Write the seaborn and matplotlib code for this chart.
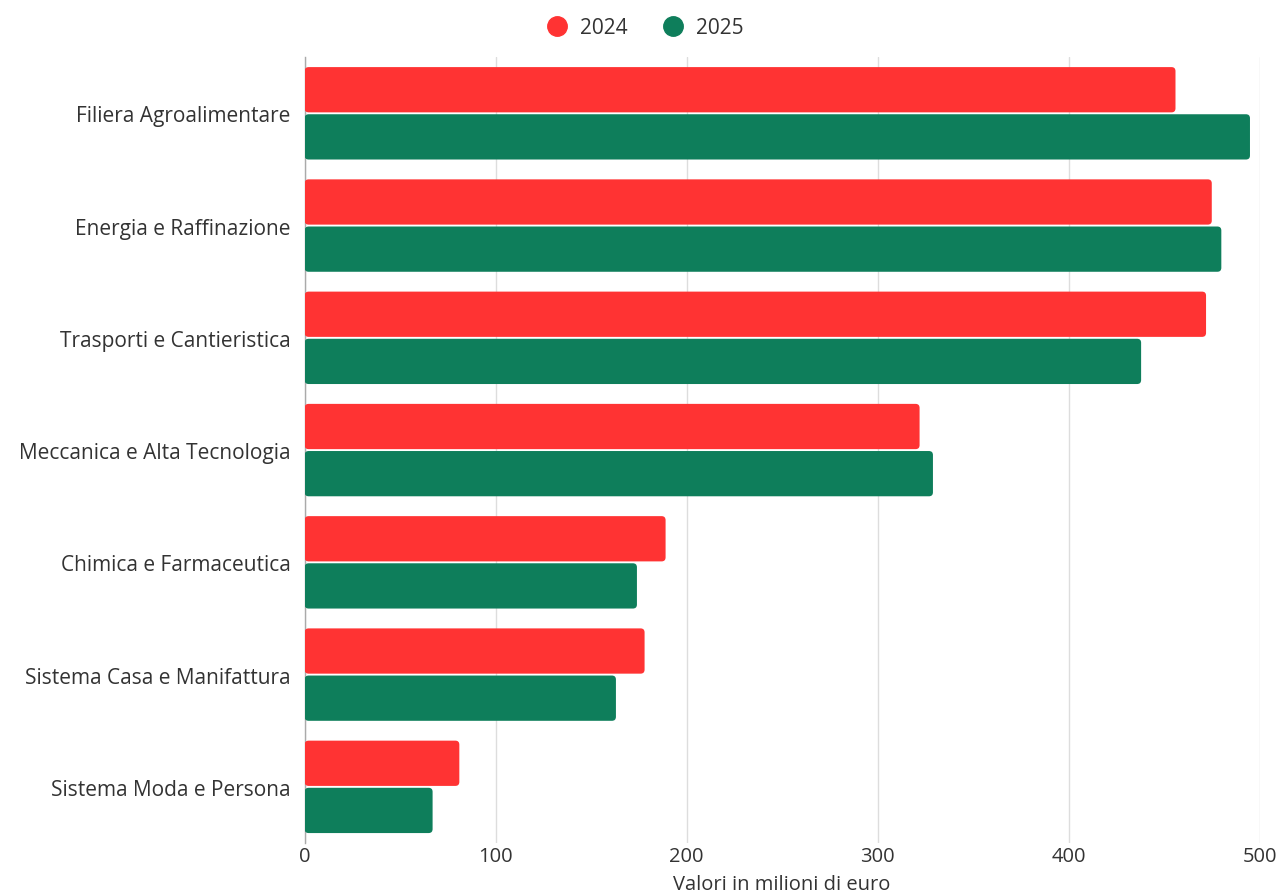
import matplotlib
matplotlib.use("Agg")
import matplotlib.pyplot as plt
from matplotlib.patches import FancyBboxPatch
from matplotlib.lines import Line2D
import seaborn as sns
import pandas as pd

categories = ["Filiera Agroalimentare", "Energia e Raffinazione", "Trasporti e Cantieristica",
              "Meccanica e Alta Tecnologia", "Chimica e Farmaceutica",
              "Sistema Casa e Manifattura", "Sistema Moda e Persona"]
values_2024 = [456, 475, 472, 322, 189, 178, 81]
values_2025 = [495, 480, 438, 329, 174, 163, 67]
series = ["2024", "2025"]
colors = ["#ff3333", "#0e7e5b"]
xticks = [0, 100, 200, 300, 400, 500]

df = pd.DataFrame({
    "cat": categories * 2,
    "val": values_2024 + values_2025,
    "year": [series[0]] * len(categories) + [series[1]] * len(categories),
})

sns.set_theme(style="white")
plt.rcParams["font.family"] = ["Open Sans", "DejaVu Sans"]

fig = plt.figure(figsize=(12.8, 8.95), dpi=100)
ax_l, ax_b, ax_w, ax_h = 0.238, 0.057, 0.746, 0.878
ax = fig.add_axes([ax_l, ax_b, ax_w, ax_h])
sns.barplot(data=df, y="cat", x="val", hue="year", palette=colors, orient="h",
            width=0.84, gap=0.04, ax=ax, legend=False, saturation=1)

# round bar corners
xr_per_px = 500 / (ax_w * 1280)
yr_per_px = 7 / (ax_h * 895)
rad = 4 * xr_per_px
for p in list(ax.patches):
    x0, y0 = p.get_x(), p.get_y()
    w, h = p.get_width(), p.get_height()
    fb = FancyBboxPatch((x0, y0), w, h,
                        boxstyle=f"round,pad=0,rounding_size={rad}",
                        mutation_aspect=yr_per_px / xr_per_px,
                        facecolor=p.get_facecolor(), edgecolor="none", zorder=3)
    p.remove()
    ax.add_patch(fb)

ax.set_xlim(0, 500)
ax.set_ylim(6.5, -0.5)
ax.set_xticks(xticks)
ax.set_xticklabels([str(t) for t in xticks], fontsize=14.5, color="#333333")
ax.tick_params(axis="y", labelsize=15, colors="#333333", length=0, pad=10)
ax.tick_params(axis="x", length=0, pad=2)
ax.grid(axis="x", color="#dddddd", linewidth=1, zorder=0)
ax.set_axisbelow(True)
for s in ["top", "right", "bottom"]:
    ax.spines[s].set_visible(False)
ax.spines["left"].set_color("#aaaaaa")
ax.spines["left"].set_linewidth(1)
ax.set_ylabel("")
ax.set_xlabel("Valori in milioni di euro", fontsize=14.5, color="#333333", labelpad=6)

handles = [Line2D([0], [0], marker="o", linestyle="none", markersize=14,
                  markerfacecolor=c, markeredgecolor=c) for c in colors]
fig.legend(handles, series, loc="center", bbox_to_anchor=(0.5, 1 - 29 / 895), ncol=2,
           frameon=False, fontsize=15, handletextpad=0.1, columnspacing=1.2,
           labelcolor="#333333")

fig.savefig("out.png", dpi=100)
